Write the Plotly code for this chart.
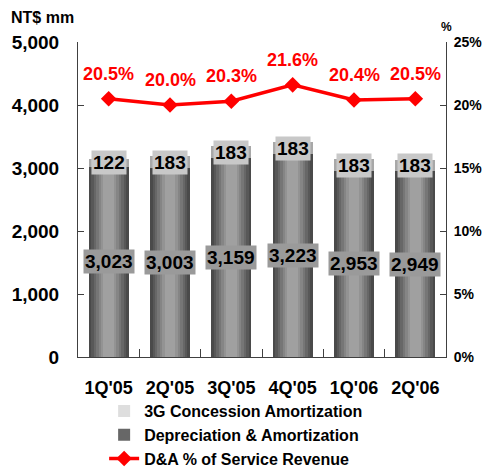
import plotly.graph_objects as go

quarters = ["1Q'05", "2Q'05", "3Q'05", "4Q'05", "1Q'06", "2Q'06"]
dep_amort = [3023, 3003, 3159, 3223, 2953, 2949]
concession_3g = [122, 183, 183, 183, 183, 183]
da_pct = [20.5, 20.0, 20.3, 21.6, 20.4, 20.5]

FONT = "Liberation Sans"
fig = go.Figure()

# cylinder-like shading via overlaid bars of decreasing width
widths = [0.65, 0.57, 0.49, 0.41, 0.33, 0.25, 0.17]
dark_cols = ["#4a4a4a", "#585858", "#676767", "#767676", "#858585", "#939393", "#a0a0a0"]
light_cols = ["#a8a8a8", "#b6b6b6", "#c4c4c4", "#d2d2d2", "#dedede", "#e9e9e9", "#f2f2f2"]

for i, (w, c) in enumerate(zip(widths, dark_cols)):
    fig.add_trace(go.Bar(
        x=quarters, y=dep_amort, width=w, marker=dict(color=c, line=dict(width=0)),
        name="Depreciation & Amortization", showlegend=(i == 2), legendrank=2,
        hoverinfo="skip", yaxis="y"))
for i, (w, c) in enumerate(zip(widths, light_cols)):
    fig.add_trace(go.Bar(
        x=quarters, y=concession_3g, base=dep_amort, width=w,
        marker=dict(color=c, line=dict(width=0)),
        name="3G Concession Amortization", showlegend=(i == 4), legendrank=1,
        hoverinfo="skip", yaxis="y"))

fig.add_trace(go.Scatter(
    x=quarters, y=[p / 100 for p in da_pct], yaxis="y2", mode="lines+markers",
    line=dict(color="#ff0000", width=3.5),
    marker=dict(symbol="diamond", size=12, color="#ff0000"),
    name="D&A % of Service Revenue", legendrank=3))

annotations = []
for q, d, g, p in zip(quarters, dep_amort, concession_3g, da_pct):
    annotations.append(dict(
        x=q, y=d / 2, xref="x", yref="y", text=f"{d:,}", showarrow=False,
        font=dict(family=FONT, size=19, color="black", weight="bold"),
        bgcolor="#9a9a9a", borderpad=1))
    annotations.append(dict(
        x=q, y=d + g / 2, xref="x", yref="y", text=f"{g:,}", showarrow=False,
        font=dict(family=FONT, size=19, color="black", weight="bold"),
        bgcolor="#c8c8c8", borderpad=1))
    annotations.append(dict(
        x=q, y=p / 100, xref="x", yref="y2", text=f"{p:.1f}%", showarrow=False,
        yshift=25, font=dict(family=FONT, size=18, color="#ff0000", weight="bold")))

annotations.append(dict(
    x=-0.188, y=1.045, xref="paper", yref="paper", xanchor="left", yanchor="bottom",
    text="NT$ mm", showarrow=False,
    font=dict(family=FONT, size=16, color="black", weight="bold")))
annotations.append(dict(
    x=1.0, y=1.02, xref="paper", yref="paper", xanchor="center", yanchor="bottom",
    text="%", showarrow=False,
    font=dict(family=FONT, size=12, color="black", weight="bold")))

fig.update_layout(
    width=477, height=459,
    margin=dict(l=70, r=39, t=34, b=110, autoexpand=False),
    plot_bgcolor="white", paper_bgcolor="white",
    barmode="overlay", bargap=0,
    showlegend=True,
    legend=dict(x=0.071, y=-0.1175, xanchor="left", yanchor="top",
                font=dict(family=FONT, size=16, color="black", weight="bold"),
                traceorder="normal", tracegroupgap=0, itemwidth=30,
                bgcolor="rgba(0,0,0,0)"),
    xaxis=dict(showline=True, linecolor="#404040", linewidth=1,
               ticks="inside", tickson="boundaries", ticklen=8, tickcolor="#404040",
               tickfont=dict(family=FONT, size=18, color="black", weight="bold"),
               ticklabelstandoff=14, showgrid=False, zeroline=False),
    yaxis=dict(range=[0, 5000], dtick=1000, tickformat=",",
               showline=True, linecolor="#404040", linewidth=1,
               ticks="inside", ticklen=6, tickcolor="#404040",
               tickfont=dict(family=FONT, size=19, color="black", weight="bold"),
               ticklabelstandoff=14, showgrid=False, zeroline=False),
    yaxis2=dict(range=[0, 0.25], dtick=0.05, tickformat=".0%", overlaying="y",
                side="right", showline=True, linecolor="#404040", linewidth=1,
                ticks="inside", ticklen=6, tickcolor="#404040",
                tickfont=dict(family=FONT, size=14, color="black", weight="bold"),
                ticklabelstandoff=4, showgrid=False, zeroline=False),
    annotations=annotations,
)

fig.write_html("out.html")
